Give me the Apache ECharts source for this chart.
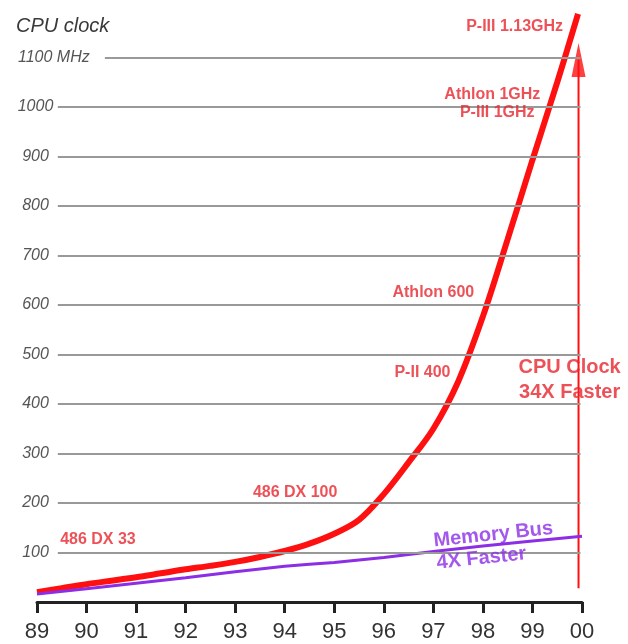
<!DOCTYPE html>
<html>
<head>
<meta charset="utf-8">
<script src="https://cdn.jsdelivr.net/npm/echarts@6/dist/echarts.min.js"></script>
<style>html,body{margin:0;padding:0;background:#fff}#c{width:628px;height:644px}</style>
</head>
<body>
<div id="c"></div>
<script>
// ---- data ----
const xTickLabels = ['89','90','91','92','93','94','95','96','97','98','99','00'];
const yTickValues = [100,200,300,400,500,600,700,800,900,1000,1100];
const yTickLabels = ['100','200','300','400','500','600','700','800','900','1000','1100 MHz'];
const cpuYears = [89, 89.5, 90, 90.5, 91, 91.5, 92, 92.5, 93, 93.5, 94, 94.5, 95, 95.5, 96, 96.5, 97, 97.5, 98, 98.5, 99, 99.5, 99.92];
const cpuMHz   = [20, 28, 36, 43, 50, 58, 66, 73, 81, 91, 103, 118, 138, 166, 218, 282, 350, 445, 577, 733, 893, 1050, 1188];
const memYears = [89, 90, 91, 92, 93, 94, 95, 96, 97, 98, 99, 100];
const memMHz   = [16, 27, 38, 49, 61, 72, 80, 90, 102, 113, 123, 133];
const arrowYear = 99.93;
const arrowFrom = 28;
const arrowTo = 1095;
// annotation texts and their anchors (data units)
const cpuNotes   = ['P-III 1.13GHz','Athlon 1GHz','P-III 1GHz','Athlon 600','P-II 400','486 DX 100','486 DX 33'];
const cpuNoteX   = [98.64, 98.19, 98.29, 97.0, 96.78, 94.21, 90.23];
const cpuNoteY   = [1162, 1026, 988, 626, 463, 222, 127];
const bigNotes   = ['CPU Clock','34X Faster'];
const bigNoteX   = [99.75, 99.75];
const bigNoteY   = [473, 424];
const memNotes   = ['Memory Bus','4X Faster'];
const memNoteX   = [98.21, 97.97];
const memNoteY   = [136, 88];

const RED = '#ff1010';
const TXTRED = '#e8262e';
const PURPLE = '#8c2ee6';
const FONT = 'Liberation Sans, Arial, sans-serif';

const chart = echarts.init(document.getElementById('c'), null, {renderer:'canvas'});

function notes(texts, xs, ys, style) {
  return texts.map((t, i) => ({ value: [xs[i], ys[i]], name: t, label: style }));
}

const gridData = yTickValues.map(v => [
  { coord: [v === 1100 ? 90.37 : 89.42, v] },
  { coord: [99.97, v] }
]);

chart.setOption({
  animation: false,
  title: {
    text: 'CPU clock', left: 11, top: 11,
    textStyle: { fontFamily: FONT, fontSize: 20, fontStyle: 'italic', fontWeight: 'normal', color: '#3a3a3a' }
  },
  grid: { left: 37, right: 46, top: 8, bottom: 42 },
  xAxis: {
    type: 'value', min: 89, max: 100, interval: 1,
    axisLine: { show: true, lineStyle: { color: '#222', width: 3 } },
    axisTick: { show: true, length: 11, lineStyle: { color: '#222', width: 3 } },
    axisLabel: {
      fontFamily: FONT, fontSize: 22, color: '#333', margin: 19,
      formatter: v => xTickLabels[Math.round(v - 89)] || ''
    },
    splitLine: { show: false }
  },
  yAxis: {
    type: 'value', min: 0, max: 1200, interval: 100,
    axisLine: { show: false }, axisTick: { show: false }, splitLine: { show: false },
    axisLabel: {
      align: 'left', margin: 19,
      formatter: v => {
        const i = yTickValues.indexOf(v);
        if (i < 0) return '';
        return v === 1100 ? '{m|' + yTickLabels[i] + '}' : '{c|' + yTickLabels[i] + '}';
      },
      rich: {
        c: { width: 35, align: 'center', fontFamily: FONT, fontSize: 16, fontStyle: 'italic', color: '#555' },
        m: { fontFamily: FONT, fontSize: 16, fontStyle: 'italic', color: '#555' }
      }
    }
  },
  series: [
    {
      type: 'line', data: [], silent: true,
      markLine: {
        silent: true, symbol: ['none','none'], label: { show: false },
        lineStyle: { color: '#999', width: 2, type: 'solid' },
        data: gridData
      }
    },
    {
      type: 'line', name: 'CPU', data: cpuYears.map((x, i) => [x, cpuMHz[i]]),
      smooth: 0.35, showSymbol: false, symbol: 'none',
      lineStyle: { color: RED, width: 6 }, z: 3
    },
    {
      type: 'line', name: 'Memory', data: memYears.map((x, i) => [x, memMHz[i]]),
      smooth: 0.2, showSymbol: false, symbol: 'none',
      lineStyle: { color: PURPLE, width: 3 }, z: 4
    },
    {
      type: 'line', data: [[arrowYear, arrowFrom], [arrowYear, arrowTo]],
      showSymbol: false, symbol: 'none', lineStyle: { color: RED, width: 2 }, z: 3
    },
    {
      type: 'scatter', data: [[arrowYear, arrowTo]], symbol: 'triangle', symbolSize: [14, 34],
      itemStyle: { color: RED }, z: 3, silent: true
    },
    {
      type: 'scatter', symbolSize: 1, itemStyle: { color: 'rgba(0,0,0,0)' }, z: 5, silent: true,
      label: { show: true, position: 'inside', formatter: p => p.name },
      data: [].concat(
        notes(cpuNotes, cpuNoteX, cpuNoteY, { fontFamily: FONT, fontSize: 16, fontWeight: 'bold', color: TXTRED }),
        notes(bigNotes, bigNoteX, bigNoteY, { fontFamily: FONT, fontSize: 20, fontWeight: 'bold', color: TXTRED }),
        notes(memNotes, memNoteX, memNoteY, { fontFamily: FONT, fontSize: 20, fontWeight: 'bold', color: PURPLE, rotate: 6 })
      )
    }
  ]
});
</script>
</body>
</html>
